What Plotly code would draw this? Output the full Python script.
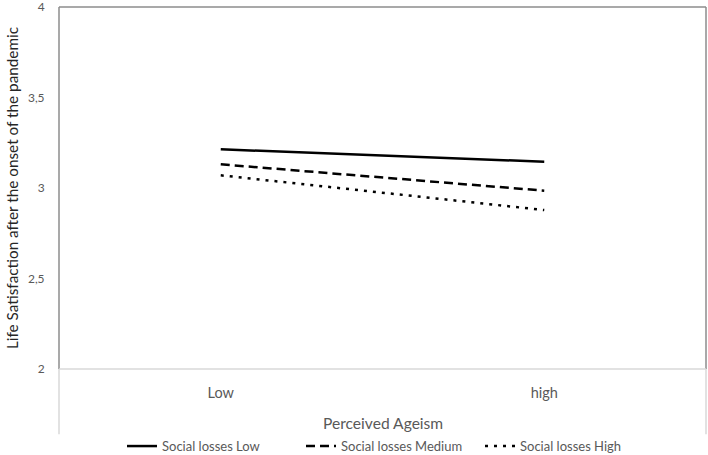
import plotly.graph_objects as go

categories = ["Low", "high"]
series_names = ["Social losses Low", "Social losses Medium", "Social losses High"]
low_losses = [3.214, 3.145]
medium_losses = [3.131, 2.985]
high_losses = [3.070, 2.878]
y_tickvals = [2, 2.5, 3, 3.5, 4]
y_ticktext = ["2", "2,5", "3", "3,5", "4"]

FONT = "Lato"
GRAY = "#595959"

fig = go.Figure()
styles = [("solid", 2.5), ("9px,5px", 2.5), ("3px,6px", 2.5)]
for name, vals, (dash, w) in zip(series_names, [low_losses, medium_losses, high_losses], styles):
    fig.add_trace(go.Scatter(x=categories, y=vals, mode="lines", name=name,
                             line=dict(color="black", width=w, dash=dash)))

shapes = [
    dict(type="line", xref="paper", yref="paper", x0=0, x1=0, y0=1, y1=0, line=dict(color="#8c8c8c", width=1.5)),
    dict(type="line", xref="paper", yref="paper", x0=0, x1=0, y0=0, y1=-0.18, line=dict(color="#d9d9d9", width=1.5)),
    dict(type="line", xref="paper", yref="paper", x0=1, x1=1, y0=0, y1=-0.18, line=dict(color="#d9d9d9", width=1.5)),
    dict(type="line", xref="paper", yref="paper", x0=1, x1=1, y0=0, y1=1, line=dict(color="#8c8c8c", width=1.5)),
    dict(type="line", xref="paper", yref="paper", x0=0, x1=1, y0=1, y1=1, line=dict(color="#8c8c8c", width=1.5)),
    dict(type="line", xref="paper", yref="paper", x0=0, x1=1, y0=0, y1=0, line=dict(color="#d9d9d9", width=1.5)),
]

fig.update_layout(
    width=708, height=455,
    margin=dict(l=59, r=2, t=7, b=86, autoexpand=False),
    paper_bgcolor="white", plot_bgcolor="white",
    font=dict(family=FONT, color=GRAY),
    showlegend=True,
    legend=dict(orientation="h", x=(122 - 59) / 647, xanchor="left", y=-0.213, yanchor="middle",
                font=dict(size=13, color=GRAY), entrywidth=134, entrywidthmode="pixels",
                traceorder="normal", bgcolor="rgba(0,0,0,0)"),
    xaxis=dict(type="category", range=[-0.5, 1.5], showgrid=False, zeroline=False, showline=False,
               ticks="outside", ticklen=11, tickcolor="rgba(0,0,0,0)",
               tickfont=dict(size=14.5, color=GRAY)),
    yaxis=dict(range=[2, 4], tickvals=y_tickvals, ticktext=y_ticktext, showgrid=False, zeroline=False,
               showline=False, ticks="outside", ticklen=11, tickcolor="rgba(0,0,0,0)",
               ticklabeloverflow="allow", tickfont=dict(size=12, color=GRAY)),
    shapes=shapes,
    annotations=[
        dict(text="Perceived Ageism", xref="paper", yref="paper", x=0.5, y=-0.149, xanchor="center",
             yanchor="middle", showarrow=False, font=dict(size=15.6, color=GRAY)),
        dict(text="Life Satisfaction after the onset of the pandemic", xref="paper", yref="paper",
             x=-0.0726, y=0.5, xanchor="center", yanchor="middle", textangle=-90, showarrow=False,
             font=dict(size=15.3, color="#262626")),
    ],
)

fig.write_html("out.html", config={"displayModeBar": False},
               post_script="document.body.style.margin='0px';document.body.style.overflow='hidden';")
